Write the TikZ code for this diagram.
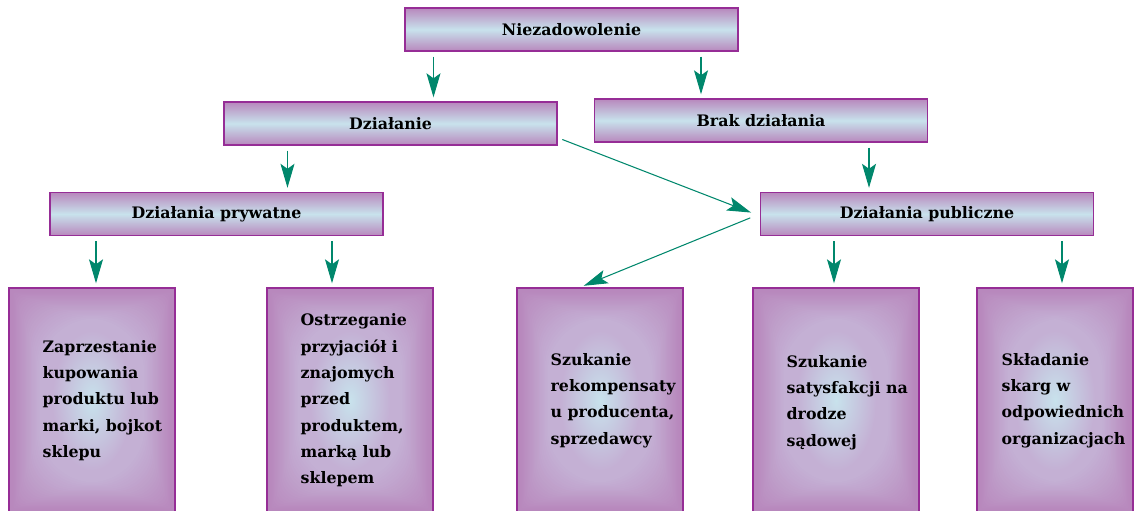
\documentclass[tikz,border=0pt]{standalone}
\usepackage{fontspec}
\setmainfont{DejaVu Serif}
\usetikzlibrary{arrows.meta, positioning, calc}
\definecolor{cLilac}{RGB}{184,136,189}
\definecolor{cLav}{RGB}{196,176,212}
\definecolor{cIce}{RGB}{200,226,236}
\definecolor{cFrame}{RGB}{150,45,150}
\definecolor{cTeal}{RGB}{0,135,108}
\tikzset{
	headbox/.style ={rectangle, draw=cFrame, line width=0.8pt, minimum width=6.66cm, minimum height=0.86cm, inner sep=0pt, top color=cLilac, bottom color=cLilac, middle color=cIce, font=\bfseries\fontsize{9}{10}\selectfont},
	leafbox/.style ={rectangle, draw=cFrame, line width=0.8pt, minimum width=3.32cm, minimum height=4.5cm, fill=cLilac,
		path picture={
			% soft fade from the frame inwards
			\foreach \k in {1,...,22}{
				\pgfmathtruncatemacro{\pct}{\k*100/22}
				\fill[cLav!\pct!cLilac, rounded corners=\k*0.05cm] ([shift={(0.06cm+\k*0.025cm,0.06cm+\k*0.025cm)}]path picture bounding box.south west) rectangle ([shift={(-0.06cm-\k*0.025cm,-0.06cm-\k*0.025cm)}]path picture bounding box.north east);
			}
			\shade[inner color=cIce, outer color=cLav] (path picture bounding box.center) ellipse (0.8cm and 1.4cm);
		}},
	leaftext/.style={anchor=west, align=left, inner sep=0pt, font=\bfseries\fontsize{9}{15}\selectfont},
	flow/.style    ={-{Stealth[length=4.8mm, width=2.8mm, inset=1mm]}, cTeal, line width=0.6pt, shorten <=0.1cm, shorten >=0.08cm},
}
\begin{document}
\begin{tikzpicture}[x=0.02cm, y=-0.02cm]
	\useasboundingbox (0,0) rectangle (1134,511);
	% levels 1--3
	\node[headbox] (niez) at (571.5,29.5) {Niezadowolenie};
	\node[headbox] (dzial) at (390.5,123.5) {Działanie};
	\node[headbox] (brak) at (761,120.5) {Brak działania};
	\node[headbox] (pryw) at (216.5,214) {Działania prywatne};
	\node[headbox] (publ) at (927,214) {Działania publiczne};
	% leaves
	\node[leafbox] (b1) at (92,400.5) {};
	\node[leafbox] (b2) at (350,400.5) {};
	\node[leafbox] (b3) at (600,400.5) {};
	\node[leafbox] (b4) at (836,400.5) {};
	\node[leafbox, minimum width=3.12cm] (b5) at (1055,400.5) {};
	\node[leaftext] (t1) at ([xshift=0.68cm]b1.west) {Zaprzestanie\\kupowania\\produktu lub\\marki, bojkot\\sklepu};
	\node[leaftext] (t2) at ([xshift=0.68cm]b2.west) {Ostrzeganie\\przyjaciół i\\znajomych\\przed\\produktem,\\marką lub\\sklepem};
	\node[leaftext] (t3) at ([xshift=0.68cm]b3.west) {Szukanie\\rekompensaty\\u producenta,\\sprzedawcy};
	\node[leaftext] (t4) at ([xshift=0.68cm,yshift=-0.04cm]b4.west) {Szukanie\\satysfakcji na\\drodze\\sądowej};
	\node[leaftext] (t5) at ([xshift=0.5cm]b5.west) {Składanie\\skarg w\\odpowiednich\\organizacjach};
	% arrows
	\draw[flow] ([xshift=0.86cm]dzial.north |- niez.south) -- ([xshift=0.86cm]dzial.north);
	\draw[flow] ([xshift=-1.2cm]brak.north |- niez.south) -- ([xshift=-1.2cm]brak.north);
	\draw[flow] ([xshift=1.42cm]pryw.north |- dzial.south) -- ([xshift=1.42cm]pryw.north);
	\draw[flow] ([xshift=-1.16cm]publ.north |- brak.south) -- ([xshift=-1.16cm]publ.north);
	\draw[flow] ([yshift=0.16cm]dzial.south east) -- ([xshift=-0.1cm]publ.west);
	\draw[flow] ([xshift=-0.1cm,yshift=-0.04cm]publ.west) -- ([xshift=-0.4cm]b3.north);
	\draw[flow] ([xshift=0.08cm]b1.north |- pryw.south) -- ([xshift=0.08cm]b1.north);
	\draw[flow] ([xshift=-0.36cm]b2.north |- pryw.south) -- ([xshift=-0.36cm]b2.north);
	\draw[flow] ([xshift=-0.04cm]b4.north |- publ.south) -- ([xshift=-0.04cm]b4.north);
	\draw[flow] ([xshift=0.14cm]b5.north |- publ.south) -- ([xshift=0.14cm]b5.north);
\end{tikzpicture}
\end{document}
